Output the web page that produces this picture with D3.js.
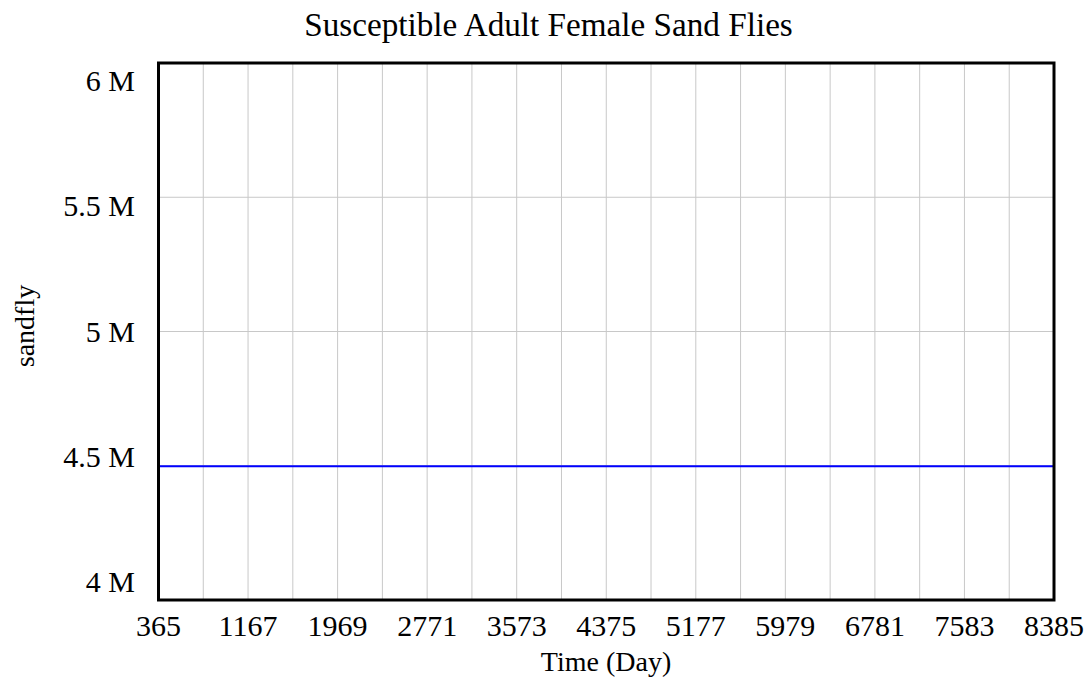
<!DOCTYPE html>
<html>
<head>
<meta charset="utf-8">
<script src="https://cdn.jsdelivr.net/npm/d3@7"></script>
<style>
  html, body { margin: 0; padding: 0; background: #fff; }
  svg { display: block; }
  text { font-family: "Liberation Serif", "DejaVu Serif", serif; fill: #000; }
</style>
</head>
<body>
<svg id="chart" width="1091" height="684"></svg>
<script>
const title = "Susceptible Adult Female Sand Flies";
const xTitle = "Time (Day)";
const yTitle = "sandfly";
const xTickValues = [365, 1167, 1969, 2771, 3573, 4375, 5177, 5979, 6781, 7583, 8385];
const yTickValues = [4000000, 4500000, 5000000, 5500000, 6000000];
const yTickLabels = ["4 M", "4.5 M", "5 M", "5.5 M", "6 M"];
const times = [365, 1167, 1969, 2771, 3573, 4375, 5177, 5979, 6781, 7583, 8385];
const values = [4498000, 4498000, 4498000, 4498000, 4498000, 4498000, 4498000, 4498000, 4498000, 4498000, 4498000];

(function () {
const svg = d3.select("#chart");
const pL = 158.5, pR = 1054, pT = 63, pB = 600;

const x = d3.scaleLinear().domain([365, 8385]).range([pL, pR]);
const y = d3.scaleLinear().domain([4000000, 6000000]).range([pB, pT]);
// label baseline positions (labels are spread slightly inside the frame)
const yLab = d3.scaleLinear().domain([4000000, 6000000]).range([592, 91]);

// vertical grid every half tick step
const gridX = d3.range(365, 8386, 401);
svg.append("g").selectAll("line").data(gridX).join("line")
  .attr("x1", d => x(d)).attr("x2", d => x(d))
  .attr("y1", pT).attr("y2", pB)
  .attr("stroke", "#c8c8c8").attr("stroke-width", 1);

svg.append("g").selectAll("line").data(yTickValues).join("line")
  .attr("x1", pL).attr("x2", pR)
  .attr("y1", d => y(d)).attr("y2", d => y(d))
  .attr("stroke", "#c8c8c8").attr("stroke-width", 1);

// data line
const line = d3.line().x((d, i) => x(times[i])).y(d => y(d));
svg.append("path").datum(values)
  .attr("d", line).attr("fill", "none")
  .attr("stroke", "#0000ff").attr("stroke-width", 2);

// frame
svg.append("rect")
  .attr("x", pL).attr("y", pT)
  .attr("width", pR - pL).attr("height", pB - pT)
  .attr("fill", "none").attr("stroke", "#000").attr("stroke-width", 3);

// x tick labels
svg.append("g").selectAll("text").data(xTickValues).join("text")
  .attr("x", d => x(d)).attr("y", 636)
  .attr("text-anchor", "middle").attr("font-size", 30)
  .text(d => d);

// y tick labels
svg.append("g").selectAll("text").data(yTickValues).join("text")
  .attr("x", 135).attr("y", d => yLab(d))
  .attr("text-anchor", "end").attr("font-size", 30)
  .text((d, i) => yTickLabels[i]);

// titles
svg.append("text").attr("x", 548.5).attr("y", 36)
  .attr("text-anchor", "middle").attr("font-size", 33.2).text(title);

svg.append("text").attr("x", 606).attr("y", 671)
  .attr("text-anchor", "middle").attr("font-size", 28).text(xTitle);

svg.append("text")
  .attr("transform", "translate(34,326) rotate(-90)")
  .attr("text-anchor", "middle").attr("font-size", 28).text(yTitle);
})();
</script>
</body>
</html>
